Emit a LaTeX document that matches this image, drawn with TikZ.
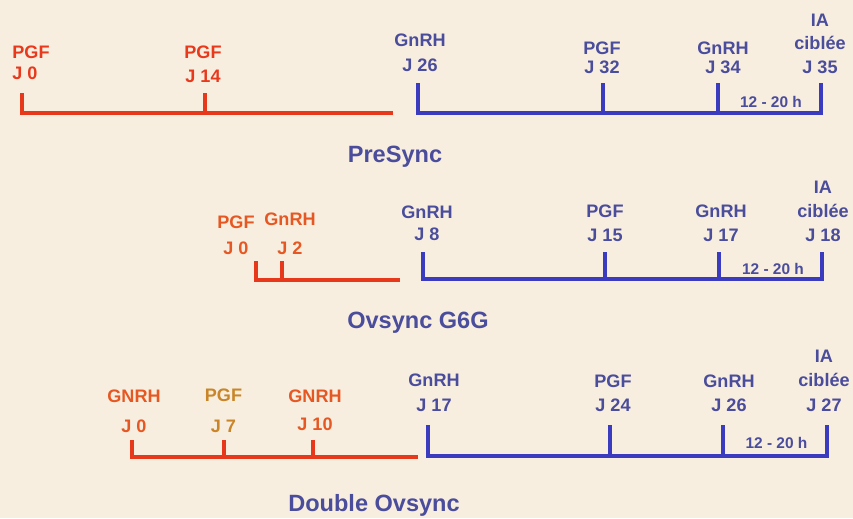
\documentclass[tikz,border=0pt]{standalone}
\usepackage{fontspec}
\setmainfont{Liberation Sans}
\usetikzlibrary{positioning}
\definecolor{bgc}{HTML}{F8EEDF}
\definecolor{redl}{HTML}{E8381C}
\definecolor{redt}{HTML}{E8391D}
\definecolor{orng}{HTML}{E65823}
\definecolor{gold}{HTML}{C98527}
\definecolor{bluel}{HTML}{3B3BC0}
\definecolor{bluet}{HTML}{4A4C9C}

\begin{document}
\begin{tikzpicture}[x=0.02cm,y=-0.02cm,
  lab/.style={text=#1,align=center,inner sep=0pt},
  lab/.default=bluet,
  ls/.style={font=\bfseries\fontsize{10.3}{#1}\selectfont},
  ttl/.style={font=\bfseries\fontsize{13.4}{16}\selectfont,text=bluet,inner sep=0pt},
  dur/.style={font=\bfseries\fontsize{8.8}{10}\selectfont,text=bluet,inner sep=0pt},
  tl/.style={draw=#1,line width=2.2pt},
  tl/.default=bluel]
\fill[bgc] (0,0) rectangle (853,518);
% PreSync
\coordinate (pr0) at (22,113);  \coordinate (pr1) at (393,113);
\coordinate (pb0) at (418,113); \coordinate (pb1) at (821,113);
\draw[tl=redl] (22,93) |- (pr1);
\draw[tl] (418,83) |- (pb1) -- (821,83);
\foreach \x in {205} \draw[tl=redl] (\x,93) -- (\x,113);
\foreach \x in {603,718} \draw[tl] (\x,83) -- (\x,113);
\node[lab=redt,ls=11.9pt,align=left,anchor=west] (p1) at (12,62.5) {PGF\\J 0};
\node[lab=redt,ls=13.4pt] (p2) at (203,64.4) {PGF\\J 14};
\node[lab,ls=14.2pt] (p3) at (420,52.5) {GnRH\\J 26};
\node[lab,ls=10.8pt] (p4) at (602,57.5) {PGF\\J 32};
\node[lab,ls=10.8pt] (p5) at (723,57.5) {GnRH\\J 34};
\node[lab,ls=13.4pt] (p6) at (820,43.5) {IA\\ciblée\\J 35};
\node[dur] (pd) at (771,102) {12 - 20 h};
\node[ttl] (pt) at (395,157) {PreSync};
% Ovsync G6G
\coordinate (or1) at (400,280);
\coordinate (ob1) at (822,279);
\draw[tl=redl] (256,261) |- (or1);
\draw[tl] (423,252) |- (ob1) -- (822,252);
\foreach \x in {282} \draw[tl=redl] (\x,261) -- (\x,280);
\foreach \x in {605,719} \draw[tl] (\x,252) -- (\x,279);
\node[lab=orng,ls=14.5pt] (o1) at (236,235.3) {PGF\\J 0};
\node[lab=orng,ls=16.2pt] (o2) at (290,233.8) {GnRH\\J 2};
\node[lab,ls=12.5pt] (o3) at (427,223.5) {GnRH\\J 8};
\node[lab,ls=13.4pt] (o4) at (605,223.3) {PGF\\J 15};
\node[lab,ls=13.4pt] (o5) at (721,223.3) {GnRH\\J 17};
\node[lab,ls=13.7pt] (o6) at (823,211) {IA\\ciblée\\J 18};
\node[dur] (od) at (773,268.5) {12 - 20 h};
\node[ttl] (ot) at (418,323) {Ovsync G6G};
% Double Ovsync
\coordinate (dr1) at (418,457);
\coordinate (db1) at (827,456);
\draw[tl=redl] (132,440) |- (dr1);
\draw[tl] (428,425) |- (db1) -- (827,425);
\foreach \x in {224,313} \draw[tl=redl] (\x,440) -- (\x,457);
\foreach \x in {610,723} \draw[tl] (\x,425) -- (\x,456);
\node[lab=orng,ls=17.4pt] (d1) at (134,411.3) {GNRH\\J 0};
\node[lab=gold,ls=17.4pt] (d2) at (223.5,411) {PGF\\J 7};
\node[lab=orng,ls=16.2pt] (d3) at (315,410.3) {GNRH\\J 10};
\node[lab,ls=14.2pt] (d4) at (434,392.5) {GnRH\\J 17};
\node[lab,ls=13.4pt] (d5) at (613,393.3) {PGF\\J 24};
\node[lab,ls=13.4pt] (d6) at (729,393.3) {GnRH\\J 26};
\node[lab,ls=13.9pt] (d7) at (824,380.5) {IA\\ciblée\\J 27};
\node[dur] (dd) at (776.5,442.5) {12 - 20 h};
\node[ttl] (dt) at (374,505) {Double Ovsync};
\end{tikzpicture}
\end{document}
